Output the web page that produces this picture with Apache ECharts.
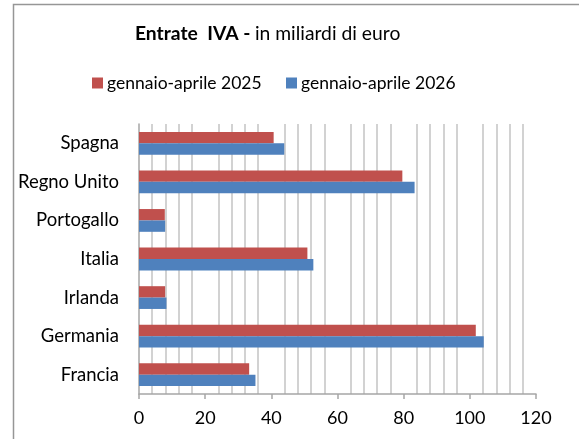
<!DOCTYPE html>
<html>
<head>
	<meta charset="utf-8">
	<title>Entrate IVA</title>
	<script src="https://cdn.jsdelivr.net/npm/echarts@6/dist/echarts.min.js"></script>
	<style>
		html, body { margin: 0; padding: 0; background: #fff; }
	</style>
</head>
<body>
	<div id="echart" style="width: 579px; height: 439px"></div>
	<script>
		// dati (in miliardi di euro), dal basso verso l'alto
		let paesi = ['Francia', 'Germania', 'Irlanda', 'Italia', 'Portogallo', 'Regno Unito', 'Spagna'];
		let valori2025 = [33.3, 101.8, 7.9, 50.9, 7.8, 79.6, 40.7];
		let valori2026 = [35.2, 104.2, 8.3, 52.7, 7.9, 83.3, 43.9];
		let serieNomi = ['gennaio-aprile 2025', 'gennaio-aprile 2026'];
		let xMin = 0, xMax = 120, xStep = 20;

		let font = 'Lato';
		let grigio = '#a6a6a6';
		let mychart = echarts.init(document.getElementById('echart'));
		let option = {
			animation: false,
			textStyle: { fontFamily: font },
			title: {
				text: '{b|Entrate  IVA -} {n|in miliardi di euro}',
				left: 135,
				top: 24,
				padding: 0,
				textStyle: {
					rich: {
						b: { fontFamily: font, fontWeight: 'bold', fontSize: 19.3, color: '#000' },
						n: { fontFamily: font, fontWeight: 'normal', fontSize: 19.3, color: '#000' }
					}
				}
			},
			legend: [
				{
					data: [serieNomi[0]],
					left: 92, top: 74, padding: 0,
					icon: 'rect',
					itemWidth: 11, itemHeight: 11, itemGap: 0,
					textStyle: { fontFamily: font, fontSize: 17.5, color: '#000', padding: [0, 0, 0, -1] }
				},
				{
					data: [serieNomi[1]],
					left: 286, top: 74, padding: 0,
					icon: 'rect',
					itemWidth: 11, itemHeight: 11, itemGap: 0,
					textStyle: { fontFamily: font, fontSize: 17.5, color: '#000', padding: [0, 0, 0, -1] }
				}
			],
			graphic: [{
				type: 'rect',
				shape: { x: 13.5, y: 4.5, width: 600, height: 500 },
				style: { fill: 'none', stroke: '#969696', lineWidth: 1.5 },
				silent: true
			}],
			grid: { left: 139, right: 43, top: 124, bottom: 45 },
			xAxis: {
				type: 'value',
				min: xMin, max: xMax, interval: xStep,
				axisLine: { show: true, lineStyle: { color: grigio, width: 1.5 } },
				axisTick: { show: true, length: 5, lineStyle: { color: grigio, width: 1.5 } },
				axisLabel: { fontFamily: font, fontSize: 18, color: '#000', margin: 15 },
				splitLine: { show: false },
				minorTick: { show: false, splitNumber: 5 },
				minorSplitLine: { show: true, lineStyle: { color: '#c4c4c4', width: 1.5 } }
			},
			yAxis: {
				type: 'category',
				data: paesi,
				axisLine: { show: true, lineStyle: { color: grigio, width: 1.5 } },
				axisTick: { show: false },
				axisLabel: { fontFamily: font, fontSize: 18.5, color: '#000', margin: 20 }
			},
			series: [
				{
					name: serieNomi[0], type: 'bar', data: valori2025,
					itemStyle: { color: '#C0504D' },
					barGap: '0%', barCategoryGap: '41%'
				},
				{
					name: serieNomi[1], type: 'bar', data: valori2026,
					itemStyle: { color: '#4F81BD' },
					barGap: '0%', barCategoryGap: '41%'
				}
			]
		};
		mychart.setOption(option);
	</script>
</body>
</html>
